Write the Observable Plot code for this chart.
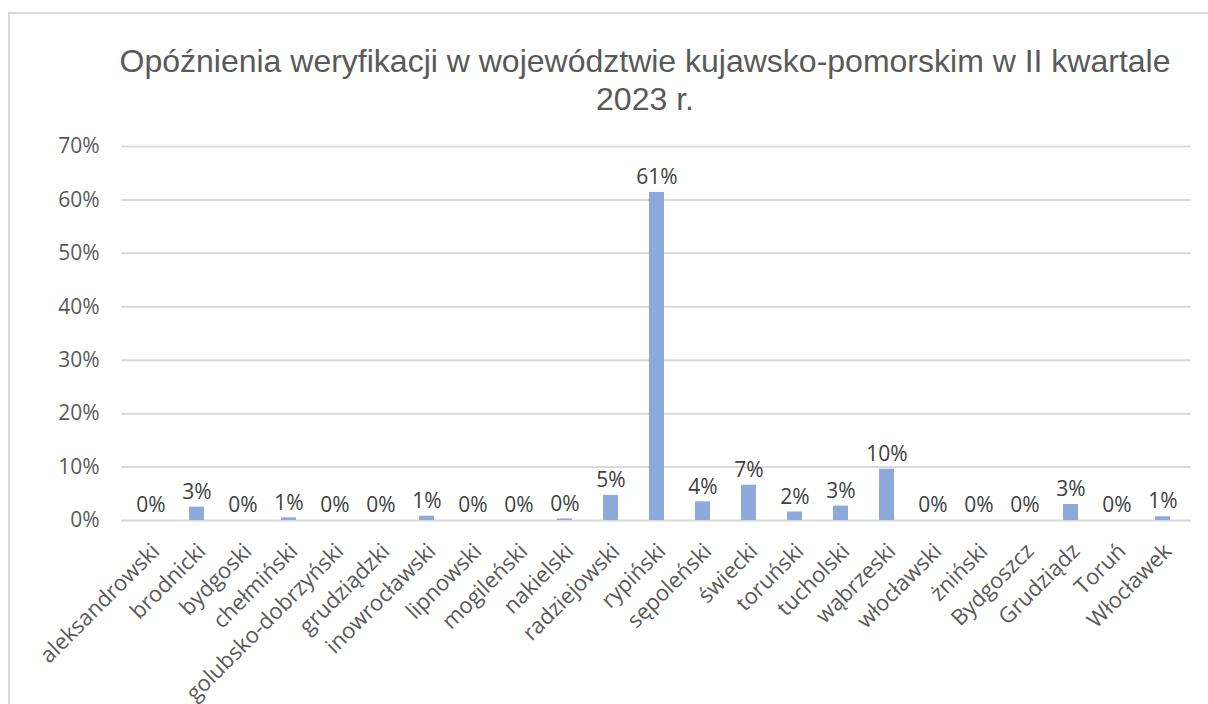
<!DOCTYPE html>
<html>
<head>
<meta charset="utf-8">
<script src="https://cdn.jsdelivr.net/npm/d3@7"></script>
<script src="https://cdn.jsdelivr.net/npm/@observablehq/plot@0.6"></script>
<style>
  html, body { margin: 0; padding: 0; background: #fff; width: 1208px; height: 704px; overflow: hidden; }
  #frame { position: absolute; left: 8px; top: 12px; width: 1300px; height: 800px; border: 2px solid #d9d9d9; box-sizing: border-box; }
  #title { position: absolute; left: 0; width: 1290px; top: 42px; text-align: center; font-family: "Liberation Sans", Arial, sans-serif; font-size: 32px; line-height: 38px; color: #595959; }
  #chart { position: absolute; left: 0; top: 120px; }
</style>
</head>
<body>
<div id="frame"></div>
<div id="title">Opóźnienia weryfikacji w województwie kujawsko-pomorskim w II kwartale<br>2023 r.</div>
<div id="chart"></div>
<script>
const categories = ["aleksandrowski","brodnicki","bydgoski","chełmiński","golubsko-dobrzyński","grudziądzki","inowrocławski","lipnowski","mogileński","nakielski","radziejowski","rypiński","sępoleński","świecki","toruński","tucholski","wąbrzeski","włocławski","żniński","Bydgoszcz","Grudziądz","Toruń","Włocławek"];
const values = [0, 0.025, 0, 0.005, 0, 0, 0.008, 0, 0, 0.003, 0.047, 0.614, 0.035, 0.066, 0.016, 0.027, 0.096, 0, 0, 0, 0.03, 0, 0.007];
const yTicks = [0, 0.1, 0.2, 0.3, 0.4, 0.5, 0.6, 0.7];

const data = categories.map((c, i) => ({category: c, value: values[i]}));
const fmt = v => Math.round(v * 100) + "%";
const font = '"Open Sans", sans-serif';

const chart = Plot.plot({
  width: 1208,
  height: 584,
  marginTop: 26,
  marginBottom: 184,
  marginLeft: 121,
  marginRight: 17,
  style: {fontFamily: font, color: "#595959", background: "transparent", overflow: "visible"},
  x: {domain: categories, paddingInner: 0.68, paddingOuter: 0.34},
  y: {domain: [0, 0.7]},
  marks: [
    Plot.ruleY(yTicks, {stroke: "#d9d9d9", strokeWidth: 2}),
    Plot.barY(data, {x: "category", y: "value", fill: "#8eaadb"}),
    Plot.text(data, {x: "category", y: "value", text: d => fmt(d.value), dy: -15, fontSize: 21, fill: "#404040"}),
    Plot.axisY({ticks: yTicks, tickFormat: d => Math.round(d * 100) + "%", tickSize: 0, tickPadding: 22, fontSize: 21, fill: "#595959", label: null}),
    Plot.axisX({tickSize: 0, tickRotate: -45, tickPadding: 27, dx: 5, fontSize: 22, fill: "#595959", label: null})
  ]
});
document.getElementById("chart").appendChild(chart);
</script>
</body>
</html>
